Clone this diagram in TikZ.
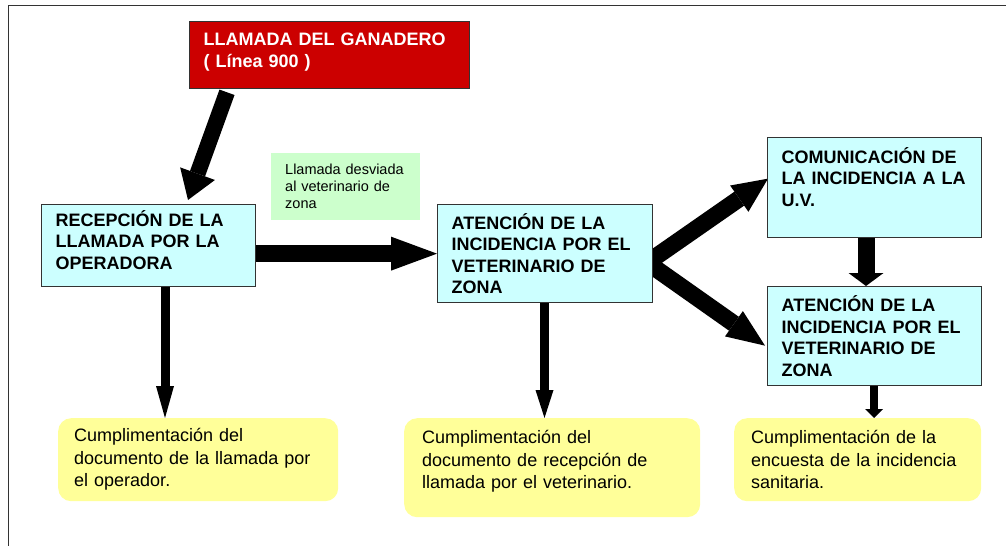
\documentclass[tikz,border=0pt]{standalone}
\usepackage{fontspec}
\setmainfont{Liberation Sans}
\usetikzlibrary{arrows.meta,backgrounds}
\definecolor{boxred}{RGB}{204,0,0}
\definecolor{boxcyan}{RGB}{204,255,255}
\definecolor{boxgreen}{RGB}{204,255,204}
\definecolor{boxyellow}{RGB}{255,255,153}
\definecolor{edgegray}{RGB}{51,51,51}
\tikzset{
  fat/.style n args={3}{line width=#1, draw=black,
    -{Triangle[width=#2,length=#3,line width=0pt]}},
  stepbox/.style={draw=edgegray, line width=1.3pt, fill=boxcyan, anchor=north west,
    align=left, inner xsep=14pt, inner ysep=0pt, text=black,
    font=\bfseries\fontsize{18}{21.5}\selectfont},
  callbox/.style={stepbox, fill=boxred, text=white},
  notebox/.style={fill=boxyellow, rounded corners=13pt, anchor=north west,
    align=left, inner ysep=0pt, font=\fontsize{18}{22.5}\selectfont},
  greenbox/.style={fill=boxgreen, anchor=north west, align=left, inner xsep=14pt,
    inner ysep=0pt, font=\fontsize{14.5}{17}\selectfont}
}
\begin{document}
\begin{tikzpicture}[x=1pt,y=-1pt]
\useasboundingbox (0,0) rectangle (1006,546);
\draw[edgegray, line width=1pt] (1006,5) -- (8,5) -- (8,546);

\node[callbox, text width=252pt, minimum height=67pt, text depth=31.3pt] (call) at (189,21)
  {LLAMADA DEL GANADERO\\( Línea 900 )};
\node[greenbox, text width=121pt, minimum height=67pt] (desv) at (271,153)
  {Llamada desviada\\al veterinario de\\zona};
\node[stepbox, text width=186pt, minimum height=82pt, text depth=55pt] (rec) at (41,204)
  {RECEPCIÓN DE LA\\LLAMADA POR LA\\OPERADORA};
\node[stepbox, text width=187pt, minimum height=98pt] (atn1) at (437,204)
  {ATENCIÓN DE LA\\INCIDENCIA POR EL\\VETERINARIO DE\\ZONA};
\node[stepbox, text width=186pt, minimum height=100pt] (com) at (767,137)
  {COMUNICACIÓN DE\\LA INCIDENCIA A LA\\U.V.\\\mbox{}};
\node[stepbox, text width=186pt, minimum height=99pt] (atn2) at (767,286)
  {ATENCIÓN DE LA\\INCIDENCIA POR EL\\VETERINARIO DE\\ZONA};
\node[notebox, text width=248pt, inner xsep=16pt, minimum height=83pt] (y1) at (58,418)
  {Cumplimentación del\\documento de la llamada por\\el operador.};
\node[notebox, text width=260pt, inner xsep=18pt, minimum height=99pt, text depth=61.5pt] (y2) at (404,418)
  {Cumplimentación del\\documento de recepción de\\llamada por el veterinario.};
\node[notebox, text width=213pt, inner xsep=17pt, minimum height=83pt] (y3) at (734,418)
  {Cumplimentación de la\\encuesta de la incidencia\\sanitaria.};

\begin{scope}[on background layer]
\draw[fat={16pt}{37pt}{28pt}] ([xshift=38pt,yshift=-3pt]call.south west) -- ([xshift=147pt,yshift=4pt]rec.north west);
\draw[fat={17pt}{34pt}{46pt}] (rec.east |- atn1.west) -- (atn1.west);
\draw[fat={17pt}{32pt}{35pt}] ([xshift=-6pt,yshift=-9pt]atn1.east) -- ([xshift=1pt,yshift=9pt]com.west);
\draw[fat={17pt}{31pt}{38pt}] ([xshift=-6pt,yshift=-9pt]atn1.east) -- ([xshift=-2pt,yshift=-9.5pt]atn2.west);
\draw[fat={9pt}{18pt}{32pt}] ([xshift=124pt]rec.south west) -- ([xshift=107pt]y1.north west);
\draw[fat={9pt}{18pt}{28pt}] ([xshift=107.5pt]atn1.south west) -- ([xshift=140.5pt]y2.north west);
\draw[fat={17pt}{35pt}{13pt}] ([xshift=99pt]com.south west) -- ([xshift=99pt]atn2.north west);
\draw[fat={8pt}{18pt}{9pt}] ([xshift=107pt]atn2.south west) -- ([xshift=140pt]y3.north west);
\end{scope}
\end{tikzpicture}
\end{document}
